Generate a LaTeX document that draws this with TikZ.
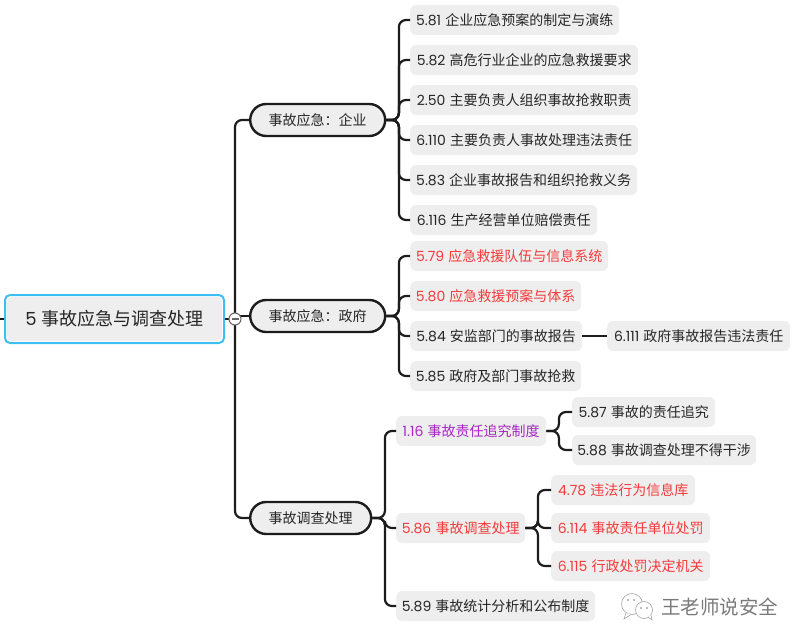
\documentclass[tikz,border=0pt]{standalone}
\usepackage{fontspec}
\setmainfont{Noto Sans CJK SC}
\newfontfamily\numfont{Poppins}
\newcommand{\tnum}[1]{{\numfont #1}\hspace{1pt}}
\newcommand{\wcolon}{\symbol{"FF1A}}
\definecolor{boxgray}{HTML}{EEEEEE}
\definecolor{linedark}{HTML}{1C1C1C}
\definecolor{rootblue}{HTML}{3FBDF5}
\definecolor{leafred}{HTML}{F23B3B}
\definecolor{leafpurple}{HTML}{A626C4}
\definecolor{markgray}{HTML}{7A7A7A}
\begin{document}
\begin{tikzpicture}[
    x=1pt, y=-1pt,
    font=\fontsize{14}{16}\selectfont,
    leaf/.style={
        rectangle, fill=boxgray, rounded corners=6pt,
        minimum height=30pt, inner xsep=2pt, inner ysep=0pt,
        anchor=west, text=black!85
    },
    redleaf/.style={leaf, text=leafred},
    purpleleaf/.style={leaf, text=leafpurple},
    branchbox/.style={
        rectangle, rounded corners=16pt, draw=linedark, line width=2.4pt,
        fill=boxgray, minimum height=32pt, inner xsep=2pt, inner ysep=0pt,
        anchor=west, text=black!85
    },
    rootbox/.style={
        rectangle, fill=boxgray, rounded corners=5pt,
        minimum width=215pt, minimum height=44pt, inner sep=0pt,
        font=\fontsize{18}{20}\selectfont, text=black!85
    },
    rootframe/.style={
        rectangle, draw=rootblue, line width=2pt, fill=white, rounded corners=5pt,
        minimum width=219pt, minimum height=48pt, inner sep=0pt
    },
    toggle/.style={
        circle, draw=black!60, fill=white, line width=1pt,
        minimum size=12pt, inner sep=0pt
    },
    link/.style={draw=linedark, line width=2.2pt, rounded corners=7pt},
    elbow/.style={to path={(\tikztostart.east) -- ++(12.5,0) |- (\tikztotarget.west)}},
    wmline/.style={draw=markgray!70, line width=0.6pt, fill=white}
]
\useasboundingbox (0,0) rectangle (805,642);

%% Root
\node[rootframe] (rootframe) at (114.5,319) {};
\node[rootbox] (root) at (rootframe) {\tnum{5} 事故应急与调查处理};
\coordinate (rootin) at (0,319);
\coordinate (hub) at (235,319);

%% Branches
\node[branchbox, minimum width=135pt] (ent) at (249,120) {事故应急\wcolon 企业};
\node[branchbox, minimum width=135pt] (gov) at (249,316) {事故应急\wcolon 政府};
\node[branchbox, minimum width=121pt] (inv) at (249,518) {事故调查处理};

%% Enterprise leaves
\node[leaf, minimum width=209pt] (a581) at (410,20) {\tnum{5.81} 企业应急预案的制定与演练};
\node[leaf, minimum width=228pt] (a582) at (410,60) {\tnum{5.82} 高危行业企业的应急救援要求};
\node[leaf, minimum width=228pt] (a250) at (410,100) {\tnum{2.50} 主要负责人组织事故抢救职责};
\node[leaf, minimum width=228pt] (a6110) at (410,140) {\tnum{6.110} 主要负责人事故处理违法责任};
\node[leaf, minimum width=227pt] (a583) at (410,180) {\tnum{5.83} 企业事故报告和组织抢救义务};
\node[leaf, minimum width=187pt] (a6116) at (410,220) {\tnum{6.116} 生产经营单位赔偿责任};

%% Government leaves
\node[redleaf, minimum width=198pt] (b579) at (410,256) {\tnum{5.79} 应急救援队伍与信息系统};
\node[redleaf, minimum width=171pt] (b580) at (410,296) {\tnum{5.80} 应急救援预案与体系};
\node[leaf, minimum width=172pt] (b584) at (410,336) {\tnum{5.84} 安监部门的事故报告};
\node[leaf, minimum width=183pt] (b6111) at (607,336) {\tnum{6.111} 政府事故报告违法责任};
\node[leaf, minimum width=171pt] (b585) at (410,376) {\tnum{5.85} 政府及部门事故抢救};

%% Investigation leaves
\node[purpleleaf, minimum width=150pt] (c116) at (396,431) {\tnum{1.16} 事故责任追究制度};
\node[leaf, minimum width=143pt] (c587) at (572,412) {\tnum{5.87} 事故的责任追究};
\node[leaf, minimum width=184pt] (c588) at (572,450) {\tnum{5.88} 事故调查处理不得干涉};
\node[redleaf, minimum width=129pt] (c586) at (396,528) {\tnum{5.86} 事故调查处理};
\node[redleaf, minimum width=144pt] (c478) at (551,490) {\tnum{4.78} 违法行为信息库};
\node[redleaf, minimum width=159pt] (c6114) at (551,528) {\tnum{6.114} 事故责任单位处罚};
\node[redleaf, minimum width=159pt] (c6115) at (551,566) {\tnum{6.115} 行政处罚决定机关};
\node[leaf, minimum width=199pt] (c589) at (396,606) {\tnum{5.89} 事故统计分析和公布制度};

%% Links
\draw[link] (rootin) -- (rootframe.west);
\draw[link] (rootframe.east) -- (hub);
\draw[link] (hub) |- (ent.west);
\draw[link] (hub |- gov.west) -- (gov.west);
\draw[link] (hub) |- (inv.west);

\draw[link] (ent) to[elbow] (a581);
\draw[link] (ent) to[elbow] (a582);
\draw[link] (ent) to[elbow] (a250);
\draw[link] (ent) to[elbow] (a6110);
\draw[link] (ent) to[elbow] (a583);
\draw[link] (ent) to[elbow] (a6116);

\draw[link] (gov) to[elbow] (b579);
\draw[link] (gov) to[elbow] (b580);
\draw[link] (gov) to[elbow] (b584);
\draw[link] (gov) to[elbow] (b585);
\draw[link] (b584) -- (b6111);

\draw[link] (inv) to[elbow] (c116);
\draw[link] (inv) to[elbow] (c586);
\draw[link] (inv) to[elbow] (c589);
\draw[link] (c116) to[elbow] (c587);
\draw[link] (c116) to[elbow] (c588);
\draw[link] (c586) to[elbow] (c478);
\draw[link] (c586) to[elbow] (c6114);
\draw[link] (c586) to[elbow] (c6115);

%% Toggle
\node[toggle] (toggle) at (hub) {};
\draw[draw=black!60, line width=1.2pt] ([xshift=-3.5pt]toggle.center) -- ([xshift=3.5pt]toggle.center);

%% Watermark
\draw[wmline] (632,604) circle (10.5);
\draw[wmline] (626,613) -- (624,619) -- (631,614.5);
\draw[wmline] (644,610) circle (8.5);
\draw[wmline] (648,617) -- (652,620) -- (651,615);
\fill[markgray] (628,600) circle (0.9) (634,600) circle (0.9) (641,608) circle (0.8) (647,608) circle (0.8);
\node[font=\fontsize{19.5}{22}\selectfont, text=markgray, anchor=west, inner sep=0pt] (markname) at (661,607) {王老师说安全};
\end{tikzpicture}
\end{document}
